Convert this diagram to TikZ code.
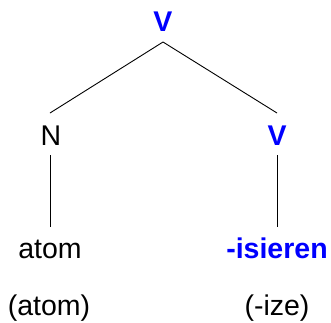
\documentclass[tikz,border=0pt]{standalone}
\usepackage{fontspec}
\setmainfont{Liberation Sans}
\definecolor{catblue}{RGB}{0,0,255}
\begin{document}
\begin{tikzpicture}[x=1pt,y=-1pt,
  lbl/.style={anchor=base,inner sep=0pt,font=\fontsize{28.5}{30}\selectfont},
  hl/.style={lbl,text=catblue,font=\fontsize{28.5}{30}\selectfont\bfseries},
  branch/.style={draw=black,line width=0.9pt}]
\useasboundingbox (0,0) rectangle (331,322);
\node[hl] (vtop) at (163,31) {V};
\node[lbl] (n) at (51,145) {N};
\node[hl] (vr) at (277,145) {V};
\node[lbl] (atom) at (50,258) {atom};
\node[hl] (isieren) at (277,258) {-isieren};
\node[lbl] (glatom) at (49,315.5) {(atom)};
\node[lbl] (glize) at (277,315.5) {(-ize)};
\draw[branch] ([yshift=-11pt]vtop.base) -- ([xshift=-1pt,yshift=32pt]n.base);
\draw[branch] ([yshift=-11pt]vtop.base) -- ([yshift=32pt]vr.base);
\draw[branch] ([xshift=-1pt,yshift=-10pt]n.base) -- ([yshift=31pt]atom.base);
\draw[branch] ([yshift=-10pt]vr.base) -- ([yshift=31pt]isieren.base);
\end{tikzpicture}
\end{document}
